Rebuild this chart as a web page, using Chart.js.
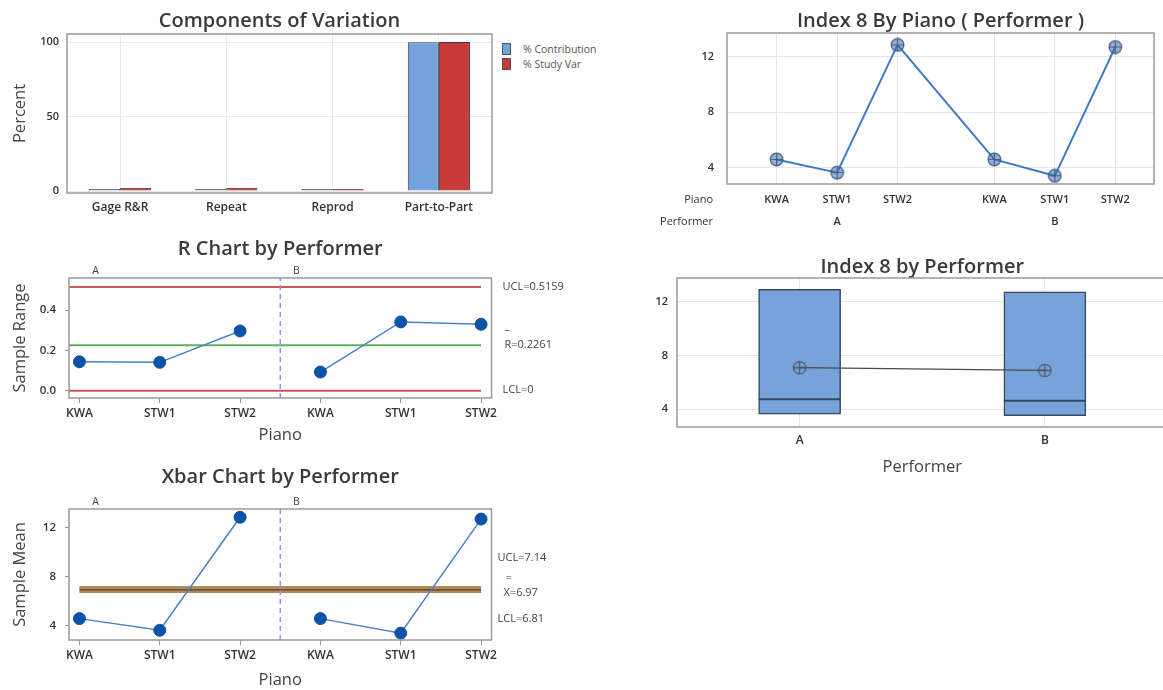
<!DOCTYPE html>
<html>
<head>
<meta charset="utf-8">
<title>Gage R&amp;R (Xbar/R) for Index 8</title>
<script src="https://cdn.jsdelivr.net/npm/chart.js@4.4.1/dist/chart.umd.min.js"></script>
<style>
  html, body { margin: 0; background: #fff; }
  body { position: relative; width: 1163px; height: 690px; overflow: hidden; font-family: 'Open Sans', 'Noto Sans', sans-serif; }
  .panel { position: absolute; }
  .legend { position: absolute; left: 502px; top: 42px; font-size: 10.5px; color: #555; line-height: 15px; }
  .legend span { display: inline-block; width: 7px; height: 10px; border: 1px solid #555; margin-right: 12px; vertical-align: -2px; }
</style>
</head>
<body>
<div class="panel" style="left:0;top:0;width:500px;height:222px"><canvas id="components"></canvas></div>
<div class="legend">
  <div><span style="background:#74a2dc"></span>% Contribution</div>
  <div><span style="background:#c93a3a"></span>% Study Var</div>
</div>
<div class="panel" style="left:0;top:225px;width:620px;height:220px"><canvas id="rChart"></canvas></div>
<div class="panel" style="left:0;top:455px;width:620px;height:235px"><canvas id="xbarChart"></canvas></div>
<div class="panel" style="left:620px;top:0;width:543px;height:240px"><canvas id="byPiano"></canvas></div>
<div class="panel" style="left:620px;top:245px;width:560px;height:245px"><canvas id="byPerformer"></canvas></div>

<script>
// components of variation
const components = ['Gage R&R', 'Repeat', 'Reprod', 'Part-to-Part'];
const contribution = [0.3, 0.3, 0.1, 99.9];
const studyVar = [2.3, 2.2, 0.6, 99.97];
const percentTicks = [0, 50, 100];

// pianos / performers
const pianos = ['KWA', 'STW1', 'STW2'];
const performers = ['A', 'B'];

// R chart
const rangeA = [0.144, 0.141, 0.297];
const rangeB = [0.093, 0.342, 0.330];
const rangeLimits = [0.5159, 0.2261, 0]; // UCL, R-bar, LCL
const rangeTicks = [0, 0.2, 0.4];

// Xbar chart (also used for Index 8 by Piano)
const meanA = [4.6, 3.65, 12.85];
const meanB = [4.6, 3.42, 12.7];
const meanLimits = [7.14, 6.97, 6.81]; // UCL, X-double-bar, LCL
const meanTicks = [4, 8, 12];

// Index 8 by Performer
const boxLow = [3.63, 3.53];
const boxHigh = [12.92, 12.74];
const boxMedian = [4.74, 4.64];
const performerMean = [7.09, 6.89];

const FONT = "'Open Sans', 'Noto Sans', sans-serif";
Chart.defaults.font.family = FONT;
Chart.defaults.color = '#333';

const fitWidth = (w) => (s) => { s.width = w; s.paddingTop = 0; s.paddingBottom = 0; };
const fitHeight = (h) => (s) => { s.height = h; s.paddingLeft = 0; s.paddingRight = 0; };
const tickAt = (values) => (s) => { s.ticks = values.map((value) => ({ value })); };
const pts = (xs, ys) => ys.map((y, i) => ({ x: xs[i], y }));
const slot = (g, i) => g * 3 + i + 1;          // R / Xbar charts
const slotGap = (g, i) => g * 3.6 + i + 1;     // by-piano chart has a wider gap between performers

Chart.register({
  id: 'frame',
  afterDraw(chart) {
    const { ctx, chartArea: a } = chart;
    ctx.save();
    ctx.strokeStyle = '#9a9a9a';
    ctx.lineWidth = 1.5;
    ctx.strokeRect(a.left, a.top, a.right - a.left, a.bottom - a.top);
    ctx.restore();
  },
});

function notes(items) {
  return {
    id: 'notes',
    afterDraw(chart) {
      const { ctx, chartArea: a, scales } = chart;
      for (const n of items) {
        let x, y;
        if (n.at === 'right') {
          x = a.right + n.dx;
          y = scales.y.getPixelForValue(n.value) + (n.dy || 0);
        } else if (n.at === 'top') {
          x = scales.x.getPixelForValue(n.value);
          y = a.top - 7;
        } else {
          x = a.left - 14;
          y = a.bottom + n.dy;
        }
        ctx.save();
        ctx.font = `${n.size || 11}px ${FONT}`;
        ctx.fillStyle = n.color || '#444';
        ctx.textAlign = n.at === 'left' ? 'right' : (n.at === 'top' ? 'center' : 'left');
        ctx.textBaseline = 'middle';
        ctx.fillText(n.text, x, y);
        ctx.restore();
      }
    },
  };
}

function ringCross(size, fill, stroke, lw) {
  const c = document.createElement('canvas');
  c.width = c.height = size;
  const g = c.getContext('2d');
  const m = size / 2;
  const r = m - lw;
  g.lineWidth = lw;
  g.strokeStyle = stroke;
  g.fillStyle = fill;
  g.beginPath(); g.arc(m, m, r, 0, Math.PI * 2); g.fill(); g.stroke();
  g.beginPath(); g.moveTo(m, m - r); g.lineTo(m, m + r); g.moveTo(m - r, m); g.lineTo(m + r, m); g.stroke();
  return c;
}

function baseOptions(title, titleTop, titleBottom, padRight) {
  return {
    responsive: true,
    maintainAspectRatio: false,
    animation: false,
    events: [],
    layout: { padding: { left: 0, right: padRight, top: 0, bottom: 0 } },
    plugins: {
      legend: { display: false },
      tooltip: { enabled: false },
      title: {
        display: true, text: title, fullSize: false, color: '#3a3a3a',
        font: { size: 20, weight: '600', lineHeight: 1.1 }, padding: { top: titleTop, bottom: titleBottom },
      },
    },
  };
}

const tickFont = { size: 12, weight: '600' };
const axisTitle = (text, pad) => ({ display: true, text, color: '#444', font: { size: 16.5 }, padding: pad });

// ---- Components of Variation ----
new Chart(document.getElementById('components'), {
  type: 'bar',
  data: {
    labels: components,
    datasets: [
      { label: '% Contribution', data: contribution, backgroundColor: '#74a2dc', borderColor: '#3d3d3d', borderWidth: 1, minBarLength: 2, categoryPercentage: 0.585, barPercentage: 1 },
      { label: '% Study Var', data: studyVar, backgroundColor: '#c93a3a', borderColor: '#3d3d3d', borderWidth: 1, minBarLength: 2, categoryPercentage: 0.585, barPercentage: 1 },
    ],
  },
  options: {
    ...baseOptions('Components of Variation', 10.5, 1.5, 8),
    scales: {
      x: {
        grid: { offset: false, color: '#e9e9e9', drawTicks: false },
        border: { display: false },
        ticks: { padding: 7, font: tickFont, color: '#333' },
        afterFit: fitHeight(29),
      },
      y: {
        min: -1.3, max: 105.4,
        afterBuildTicks: tickAt(percentTicks),
        grid: { color: '#e9e9e9', drawTicks: false },
        border: { display: false },
        ticks: { padding: 8, font: { size: 11, weight: '600' }, color: '#333' },
        title: axisTitle('Percent', { top: 10, bottom: 0 }),
        afterFit: fitWidth(67),
      },
    },
  },
});

// ---- shared control chart builder ----
function controlChart(id, opts) {
  const { title, titleTop, titleBottom, xHeight, yMin, yMax, yTicks, yFmt, yTitle, a, b, limits, limitColors, limitWidths, limitFrom, labels } = opts;
  const xs = (g) => pianos.map((p, i) => slot(g, i));
  const pointStyle = { borderColor: '#4a80c8', borderWidth: 1.5, pointRadius: 6, pointBackgroundColor: '#0c52a8', pointBorderColor: '#0c52a8', pointBorderWidth: 1 };
  const limitSets = limits.map((v, k) => ({
    data: [{ x: limitFrom, y: v }, { x: slot(1, 2), y: v }],
    borderColor: limitColors[k], borderWidth: limitWidths[k], pointRadius: 0,
  }));
  return new Chart(document.getElementById(id), {
    type: 'line',
    data: {
      datasets: [
        { data: pts(xs(0), a), ...pointStyle },
        { data: pts(xs(1), b), ...pointStyle },
        { data: [{ x: 3.5, y: yMin }, { x: 3.5, y: yMax }], borderColor: '#9f8be0', borderWidth: 1.5, borderDash: [5, 4], pointRadius: 0 },
        ...limitSets,
      ],
    },
    options: {
      ...baseOptions(title, titleTop, titleBottom, 128.5),
      scales: {
        x: {
          type: 'linear', min: 0.87, max: 6.13,
          afterBuildTicks: tickAt([0, 1].flatMap((g) => xs(g))),
          grid: { drawOnChartArea: false, tickLength: 5, color: '#999' },
          border: { display: false },
          ticks: { padding: 3, maxRotation: 0, autoSkip: false, font: tickFont, color: '#333', callback: (v, i) => pianos[i % 3] },
          title: axisTitle('Piano', { top: 0, bottom: 0 }),
          afterFit: fitHeight(xHeight),
        },
        y: {
          min: yMin, max: yMax,
          afterBuildTicks: tickAt(yTicks),
          grid: { drawOnChartArea: false, tickLength: 4, color: '#999' },
          border: { display: false },
          ticks: { padding: 9, font: { size: 11.5, weight: '600' }, color: '#333', callback: yFmt },
          title: axisTitle(yTitle, { top: 10, bottom: 0 }),
          afterFit: fitWidth(69),
        },
      },
    },
    plugins: [notes([
      { at: 'top', value: slot(0, 0) + 0.2, text: performers[0], size: 10.5 },
      { at: 'top', value: slot(1, 0) - 0.3, text: performers[1], size: 10.5 },
      ...labels,
    ])],
  });
}

controlChart('rChart', {
  title: 'R Chart by Performer', titleTop: 13.5, titleBottom: 17.5, xHeight: 47,
  yMin: -0.036, yMax: 0.56, yTicks: rangeTicks, yFmt: (v) => v.toFixed(1), yTitle: 'Sample Range',
  a: rangeA, b: rangeB, limits: rangeLimits,
  limitColors: ['#c8585a', '#5fb35f', '#c8585a'], limitWidths: [2, 2, 2], limitFrom: 0.87,
  labels: [
    { at: 'right', value: rangeLimits[0], dx: 11, text: `UCL=${rangeLimits[0]}` },
    { at: 'right', value: rangeLimits[1], dx: 13, dy: -15, text: '–' },
    { at: 'right', value: rangeLimits[1], dx: 13, text: `R=${rangeLimits[1]}` },
    { at: 'right', value: rangeLimits[2], dx: 11, dy: -1, text: `LCL=${rangeLimits[2]}` },
  ],
});

controlChart('xbarChart', {
  title: 'Xbar Chart by Performer', titleTop: 11.5, titleBottom: 20.5, xHeight: 50,
  yMin: 2.86, yMax: 13.52, yTicks: meanTicks, yFmt: (v) => String(v), yTitle: 'Sample Mean',
  a: meanA, b: meanB, limits: meanLimits,
  limitColors: ['#b48a5c', '#6b5535', '#b48a5c'], limitWidths: [3, 2.5, 3], limitFrom: 1,
  labels: [
    { at: 'right', value: meanLimits[0], dx: 6, dy: -30, text: `UCL=${meanLimits[0]}` },
    { at: 'right', value: meanLimits[1], dx: 14, dy: -12, text: '=' },
    { at: 'right', value: meanLimits[1], dx: 12, dy: 3, text: `X=${meanLimits[1]}` },
    { at: 'right', value: meanLimits[2], dx: 6, dy: 27, text: `LCL=${meanLimits[2]}` },
  ],
});

// ---- Index 8 By Piano ( Performer ) ----
const pianoXs = [0, 1].flatMap((g) => pianos.map((p, i) => slotGap(g, i)));
new Chart(document.getElementById('byPiano'), {
  type: 'line',
  data: {
    datasets: [{
      data: pts(pianoXs, [...meanA, ...meanB]),
      borderColor: '#3f7cc4', borderWidth: 2,
      pointStyle: ringCross(15, 'rgba(70,110,165,0.55)', '#3d5f8c', 1.2), pointRadius: 7,
    }],
  },
  options: {
    ...baseOptions('Index 8 By Piano ( Performer )', 10.5, 0.5, 5),
    scales: {
      x: {
        type: 'linear', min: 0.18, max: 7.24,
        afterBuildTicks: tickAt(pianoXs),
        grid: { color: '#e6e6e6', drawTicks: false },
        border: { display: false },
        ticks: {
          padding: 5, maxRotation: 0, autoSkip: false, color: '#333',
          font: { size: 11, weight: '600', lineHeight: 2 },
          callback: (v, i) => [pianos[i % 3], i % 3 === 1 ? performers[Math.floor(i / 3)] : ''],
        },
        afterFit: fitHeight(56),
      },
      y: {
        min: 2.83, max: 13.71,
        afterBuildTicks: tickAt(meanTicks),
        grid: { color: '#e6e6e6', drawTicks: false },
        border: { display: false },
        ticks: { padding: 13, font: { size: 11, weight: '600' }, color: '#333' },
        afterFit: fitWidth(107),
      },
    },
  },
  plugins: [notes([
    { at: 'left', dy: 16, text: 'Piano', size: 11, color: '#333' },
    { at: 'left', dy: 38, text: 'Performer', size: 11, color: '#333' },
  ])],
});

// ---- Index 8 by Performer ----
const performerXs = performers.map((p, i) => i + 1);
new Chart(document.getElementById('byPerformer'), {
  type: 'bar',
  data: {
    datasets: [
      {
        type: 'line', data: pts(performerXs, performerMean),
        borderColor: '#4a4a4a', borderWidth: 1.3,
        pointStyle: ringCross(15, 'rgba(255,255,255,0)', '#4b5866', 1.3), pointRadius: 7,
      },
      {
        type: 'bar', data: performerXs.map((x, i) => ({ x, y: [boxLow[i], boxHigh[i]] })),
        backgroundColor: '#78a3da', borderColor: '#34495e', borderWidth: 1.5, borderSkipped: false, barThickness: 82,
      },
    ],
  },
  options: {
    ...baseOptions('Index 8 by Performer', 11, 0, 12.5),
    scales: {
      x: {
        type: 'linear', min: 0.5, max: 2.5, offset: false,
        afterBuildTicks: tickAt(performerXs),
        grid: { offset: false, color: '#e6e6e6', drawTicks: false },
        border: { display: false },
        ticks: { padding: 6.4, font: tickFont, color: '#333', callback: (v, i) => performers[i] },
        title: axisTitle('Performer', { top: 0, bottom: 13 }),
        afterFit: fitHeight(63),
      },
      y: {
        min: 2.68, max: 13.76,
        afterBuildTicks: tickAt(meanTicks),
        grid: { color: '#e6e6e6', drawTicks: false },
        border: { display: false },
        ticks: { padding: 9, font: { size: 11, weight: '600' }, color: '#333' },
        afterFit: fitWidth(57),
      },
    },
  },
  plugins: [{
    id: 'medians',
    afterDatasetsDraw(chart) {
      const { ctx } = chart;
      const y = chart.scales.y;
      ctx.save();
      ctx.strokeStyle = '#34495e';
      ctx.lineWidth = 2;
      chart.getDatasetMeta(1).data.forEach((bar, i) => {
        const py = y.getPixelForValue(boxMedian[i]);
        ctx.beginPath();
        ctx.moveTo(bar.x - bar.width / 2, py);
        ctx.lineTo(bar.x + bar.width / 2, py);
        ctx.stroke();
      });
      ctx.restore();
    },
  }],
});
</script>
</body>
</html>
